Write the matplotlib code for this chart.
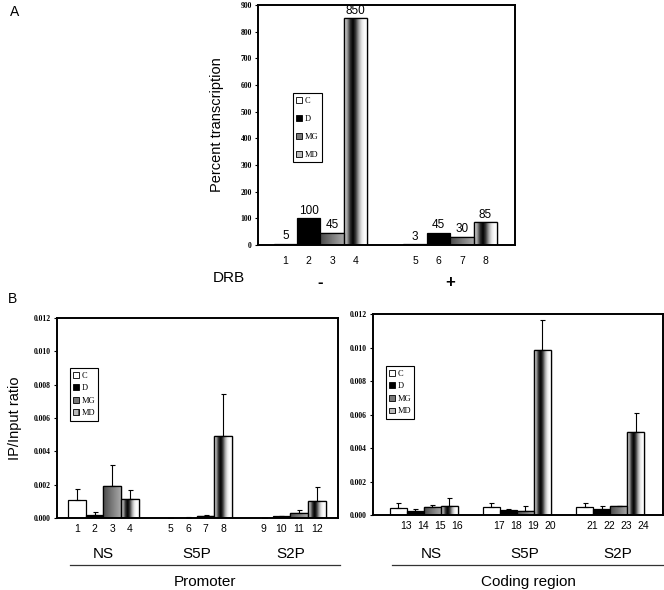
import numpy as np
import matplotlib
matplotlib.use('Agg')
import matplotlib.pyplot as plt
from matplotlib.patches import Patch
from matplotlib.colors import LinearSegmentedColormap
import matplotlib.transforms as mtransforms

# -----------------------------------------------------------------------------
# data

kinds = ['C', 'D', 'MG', 'MD']

a_labels = ['1', '2', '3', '4', '5', '6', '7', '8']
a_values = [5, 100, 45, 850, 3, 45, 30, 85]
a_groups = ['-', '+']

b_groups = ['NS', 'S5P', 'S2P']

promoter_labels = [str(i) for i in range(1, 13)]
promoter_values = [0.00106, 0.0002, 0.0019, 0.00116,
                   0.0, 0.00002, 0.0001, 0.00494,
                   0.0, 0.0001, 0.0003, 0.0010]
promoter_err = [0.00068, 0.00016, 0.0013, 0.0005,
                0.0, 0.00006, 0.0001, 0.0025,
                0.0, 0.00004, 0.0002, 0.00086]

coding_labels = [str(i) for i in range(13, 25)]
coding_values = [0.00044, 0.00024, 0.0005, 0.00054,
                 0.0005, 0.0003, 0.00024, 0.00986,
                 0.0005, 0.00034, 0.00056, 0.00496]
coding_err = [0.00026, 0.0001, 0.0001, 0.00046,
              0.0002, 0.00004, 0.0003, 0.00178,
              0.0002, 0.0002, 0.0, 0.00114]

# -----------------------------------------------------------------------------
# styles

plt.rcParams['font.family'] = ['Liberation Sans', 'DejaVu Sans']

mg_cmap = LinearSegmentedColormap.from_list('mg', ['#4a4a4a', '#7a7a7a', '#a8a8a8'])
md_cmap = LinearSegmentedColormap.from_list(
    'md', ['#d8d8d8', '#a0a0a0', '#303030', '#000000', '#404040',
           '#a8a8a8', '#e8e8e8', '#ffffff', '#f0f0f0'])


def draw_bars(ax, x, values, width):
    bars = ax.bar(x, values, width, color='white', edgecolor='black',
                  linewidth=0.9, zorder=2)
    for i, b in enumerate(bars):
        k = kinds[i % 4]
        if k == 'D':
            b.set_facecolor('black')
        elif k in ('MG', 'MD'):
            cmap = mg_cmap if k == 'MG' else md_cmap
            x0 = b.get_x()
            h = b.get_height()
            if h <= 0:
                continue
            im = ax.imshow(np.linspace(0, 1, 64).reshape(1, -1), cmap=cmap,
                           extent=(x0, x0 + b.get_width(), 0, h),
                           aspect='auto', zorder=2.1, interpolation='bilinear')
            im.set_clip_path(b)
            edge = plt.Rectangle((x0, 0), b.get_width(), h, fill=False,
                                 edgecolor='black', linewidth=0.9, zorder=2.2)
            ax.add_patch(edge)
    return bars


def add_legend(ax, loc, spacing):
    handles = [Patch(facecolor='white', edgecolor='black', linewidth=0.6),
               Patch(facecolor='black', edgecolor='black', linewidth=0.6),
               Patch(facecolor='#777777', edgecolor='black', linewidth=0.6),
               Patch(facecolor='#bbbbbb', edgecolor='black', linewidth=0.6, hatch='||')]
    leg = ax.legend(handles, kinds, loc='upper left', bbox_to_anchor=loc,
                    prop={'family': 'Liberation Serif', 'size': 6},
                    handlelength=0.7, handleheight=0.7, handletextpad=0.3,
                    borderpad=0.4, labelspacing=spacing, fancybox=False,
                    edgecolor='black', framealpha=1)
    leg.get_frame().set_linewidth(0.8)


def style_axes(ax):
    for s in ax.spines.values():
        s.set_linewidth(1.4)
    ax.tick_params(axis='x', length=0, labelsize=7.5)
    ax.tick_params(axis='y', length=2.5, width=0.8,
                   labelsize=5.5, pad=2)
    for t in ax.get_yticklabels():
        t.set_fontfamily('Liberation Serif')
        t.set_fontweight('bold')


fig = plt.figure(figsize=(6.64, 5.90), dpi=100)

# -----------------------------------------------------------------------------
# panel A

axA = fig.add_axes([0.3886, 0.5847, 0.387, 0.4068])
a_x = np.array([g * 5.55 + i for g in range(2) for i in range(4)], dtype=float)
draw_bars(axA, a_x, a_values, 1.0)
for xi, v in zip(a_x, a_values):
    axA.text(xi, v + 6, str(v), ha='center', va='bottom', fontsize=8.5, zorder=3)
axA.set_xlim(-1.17, 9.82)
axA.set_ylim(0, 900)
axA.set_yticks(np.arange(0, 901, 100))
axA.set_xticks(a_x)
axA.set_xticklabels(a_labels)
style_axes(axA)
axA.tick_params(axis='x', pad=8)
axA.set_ylabel('Percent transcription', fontsize=10.5, labelpad=12)
add_legend(axA, (0.12, 0.65), 1.2)

trA = mtransforms.blended_transform_factory(axA.transData, fig.transFigure)
for g, lab in enumerate(a_groups):
    axA.text(g * 5.55 + 1.5, 1 - 282 / 590, lab, transform=trA, ha='center',
             va='center', fontsize=12, fontweight='bold')
fig.text(213 / 664, 1 - 278 / 590, 'DRB', ha='left', va='center', fontsize=11)

fig.text(10 / 664, 1 - 12 / 590, 'A', ha='left', va='center', fontsize=10)
fig.text(8 / 664, 1 - 299 / 590, 'B', ha='left', va='center', fontsize=10)

# -----------------------------------------------------------------------------
# panel B


def panel_b(rect, values, err, labels, gap, xlim, label_shift, title, line_x):
    ax = fig.add_axes(rect)
    x = np.array([g * gap + i for g in range(3) for i in range(4)], dtype=float)
    draw_bars(ax, x, values, 1.0)
    ax.errorbar(x, values, yerr=[np.zeros(len(err)), err], fmt='none',
                ecolor='black', elinewidth=0.8, capsize=1.8, capthick=0.8, zorder=3)
    ax.set_xlim(*xlim)
    ax.set_ylim(0, 0.012)
    ax.set_yticks(np.arange(0, 0.0121, 0.002))
    ax.set_yticklabels(['%.3f' % v for v in np.arange(0, 0.0121, 0.002)])
    ax.set_xticks(x + label_shift)
    ax.set_xticklabels(labels)
    style_axes(ax)
    ax.tick_params(axis='x', pad=4)
    tr = mtransforms.blended_transform_factory(ax.transData, fig.transFigure)
    for g, lab in enumerate(b_groups):
        ax.text(g * gap + 1.5 + label_shift, 1 - 554 / 590, lab, transform=tr,
                ha='center', va='center', fontsize=11)
    fig.add_artist(plt.Line2D([line_x[0] / 664, line_x[1] / 664],
                              [1 - 565 / 590, 1 - 565 / 590],
                              color='#333333', lw=0.9))
    fig.text((line_x[0] + line_x[1]) / 2 / 664, 1 - 582 / 590, title,
             ha='center', va='center', fontsize=11)
    return ax


axL = panel_b([0.0858, 0.122, 0.423, 0.339], promoter_values, promoter_err,
              promoter_labels, 5.3, (-1.13, 14.8), 0.0, 'Promoter', (70, 340))
axL.set_ylabel('IP/Input ratio', fontsize=10.5, labelpad=8)
add_legend(axL, (0.03, 0.77), 0.55)

axR = panel_b([0.5617, 0.1271, 0.437, 0.3407], coding_values, coding_err,
              coding_labels, 5.47, (-1.47, 15.55), 0.45, 'Coding region', (392, 664))
add_legend(axR, (0.03, 0.76), 0.55)

fig.savefig('out.png', dpi=100)
